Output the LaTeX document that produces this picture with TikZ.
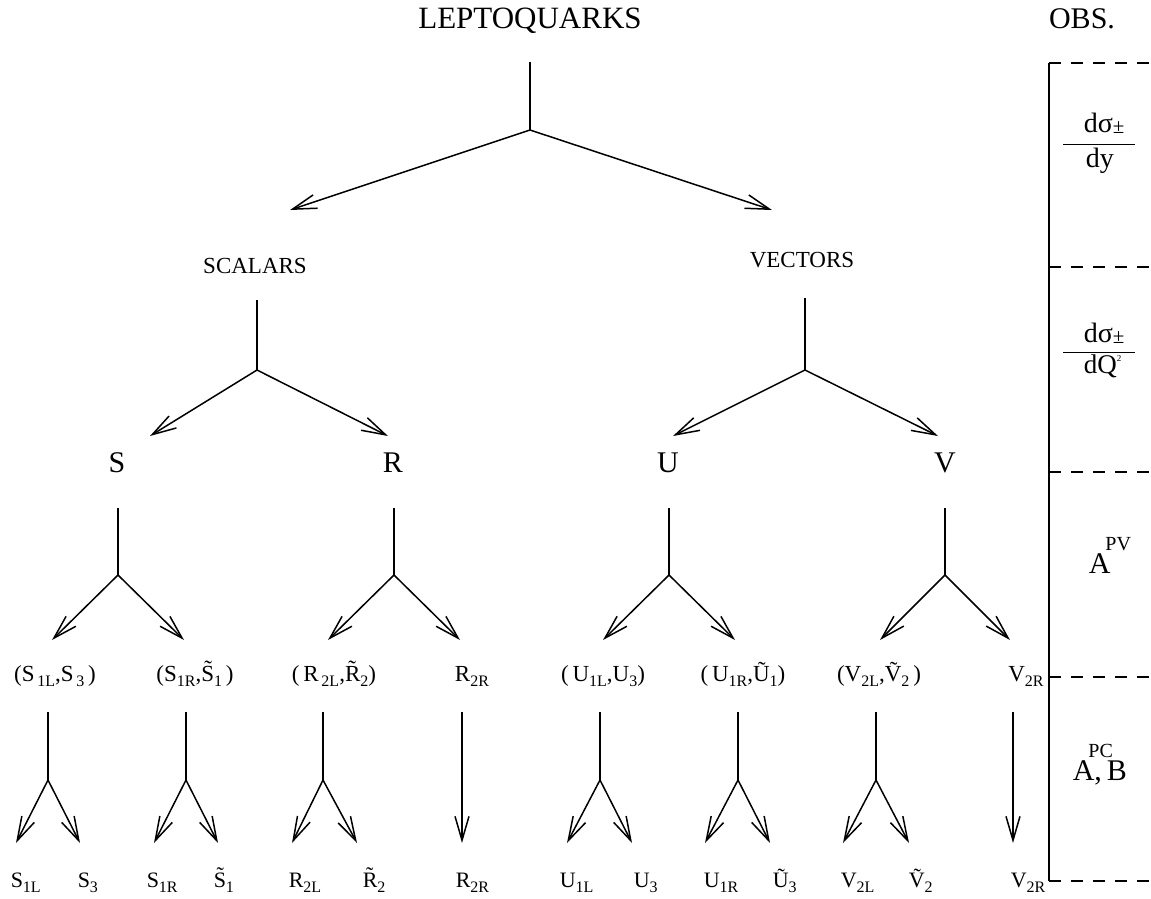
\documentclass[tikz,border=0pt]{standalone}
\usepackage{fontspec}
\setmainfont{Liberation Serif}
\usetikzlibrary{arrows.meta}
\newcommand{\sub}[1]{\raisebox{-0.55ex}{\fontsize{16}{16}\selectfont #1}}
\newcommand{\sups}[1]{\raisebox{23pt}{\fontsize{20}{20}\selectfont #1}}
\newcommand{\pmsub}{\raisebox{-0.15ex}{\fontsize{21}{21}\selectfont ±}}

\begin{document}
\begin{tikzpicture}[x=1pt,y=-1pt,line width=1.5pt]
  \tikzstyle{arr}=[-{Straight Barb[length=24pt,width=14pt]}]
  \tikzstyle{big}=[font=\fontsize{31}{34}\selectfont,inner sep=0pt,anchor=base]
  \tikzstyle{mid}=[font=\fontsize{23}{26}\selectfont,inner sep=0pt,anchor=base]
  \tikzstyle{lvl}=[font=\fontsize{30}{32}\selectfont,inner sep=0pt,anchor=base]
  \tikzstyle{pair}=[font=\fontsize{23}{25}\selectfont,inner sep=0pt,anchor=base]
  \tikzstyle{leaf}=[font=\fontsize{22}{24}\selectfont,inner sep=0pt,anchor=base west]
  \tikzstyle{frac}=[font=\fontsize{28}{30}\selectfont,inner sep=0pt,anchor=base west]
  \tikzstyle{obsline}=[dash pattern=on 12pt off 10pt]
  \useasboundingbox (0,0) rectangle (1151,898);

  % labels of the tree
  \node[big] (lq) at (530,28) {LEPTOQUARKS};
  \node[big,font=\fontsize{30}{32}\selectfont] (obs) at (1082,28) {OBS.};
  \node[mid] (scal) at (255,273) {SCALARS};
  \node[mid] (vect) at (802,267) {VECTORS};
  \node[lvl] (S) at (117,472) {S};
  \node[lvl] (R) at (393,472) {R};
  \node[lvl] (U) at (668,472) {U};
  \node[lvl] (V) at (945,472) {V};
  \node[pair] (s1) at (55,681) {(S\sub{\,1L},S\sub{\,3}\,)};
  \node[pair] (s2) at (195,681) {(S\sub{1R},\~{S}\sub{1}\,)};
  \node[pair] (r1) at (334,681) {(\,R\sub{\,2L},\~{R}\sub{2})};
  \node[pair] (r2) at (472,681) {R\sub{2R}};
  \node[pair] (u1) at (603,681) {(\,U\sub{1L},U\sub{3})};
  \node[pair] (u2) at (743,681) {(\,U\sub{1R},\~{U}\sub{1})};
  \node[pair] (v1) at (879,681) {(V\sub{2L},\~{V}\sub{2}\,)};
  \node[pair] (v2) at (1026,681) {V\sub{2R}};
  \foreach \n/\x/\t in {a/10/S\sub{1L}, b/77/S\sub{3}, c/146/S\sub{1R},
      d/213/\~{S}\sub{1}, e/288/R\sub{2L}, f/362/\~{R}\sub{2},
      g/455/R\sub{2R}, h/559/U\sub{1L}, i/633/U\sub{3}, j/703/U\sub{1R},
      k/772/\~{U}\sub{3}, l/840/V\sub{2L}, m/908/\~{V}\sub{2}, o/1010/V\sub{2R}}
    \node[leaf] (leaf\n) at (\x,887) {\t};

  % forks: name / x / top / fork / left tip / right tip / tip y
  \foreach \n/\x/\top/\f/\xl/\xr/\yt in {lq/530/62/130/290/772/210,
      scal/257/300/370/150/388/436, vect/805/298/370/673/938/436,
      S/118/508/575/52/184/640, R/394/508/575/328/460/640,
      U/669/508/575/603/735/640, V/945/508/575/880/1010/640,
      s1/48/712/780/16/80/843, s2/186/712/780/154/218/843,
      r1/323/712/780/292/357/843, u1/600/712/780/567/632/843,
      u2/738/712/780/705/770/843, v1/876/712/780/843/909/843} {
    \coordinate (\n top) at (\x,\top);
    \coordinate (\n fork) at (\x,\f);
    \coordinate (\n left) at (\xl,\yt);
    \coordinate (\n right) at (\xr,\yt);
    \draw (\n top) -- (\n fork);
    \draw[arr] (\n fork) -- (\n left);
    \draw[arr] (\n fork) -- (\n right);
  }
  \foreach \n/\x in {r2/462, v2/1013} {
    \coordinate (\n top) at (\x,712);
    \coordinate (\n tip) at (\x,843);
    \draw[arr] (\n top) -- (\n tip);
  }

  % observables
  \foreach \i/\y in {0/63, 1/267, 2/472, 3/677, 4/881} {
    \coordinate (o\i) at (1049,\y);
    \coordinate (e\i) at (1151,\y);
    \draw[obsline] (o\i) -- (e\i);
  }
  \draw (o0) -- (o4);
  \node[frac] (num1) at (1083,132) {dσ\pmsub};
  \node[frac] (den1) at (1085,167) {dy};
  \coordinate (bar1l) at (1063,144);
  \coordinate (bar1r) at (1135,144);
  \draw[line width=1pt] (bar1l) -- (bar1r);
  \node[frac] (num2) at (1083,342) {dσ\pmsub};
  \node[frac,font=\fontsize{27}{29}\selectfont] (den2) at (1083,373)
    {dQ\raisebox{0.9ex}{\fontsize{9}{9}\selectfont 2}};
  \coordinate (bar2l) at (1063,352);
  \coordinate (bar2r) at (1135,352);
  \draw[line width=1pt] (bar2l) -- (bar2r);
  \node[lvl,anchor=base west] (apv) at (1088,573) {A\kern-5pt\sups{PV}};
  \node[lvl,anchor=base west] (apc) at (1072,780)
    {A\rlap{\kern-6pt\sups{PC}},\kern5pt B};
\end{tikzpicture}
\end{document}
